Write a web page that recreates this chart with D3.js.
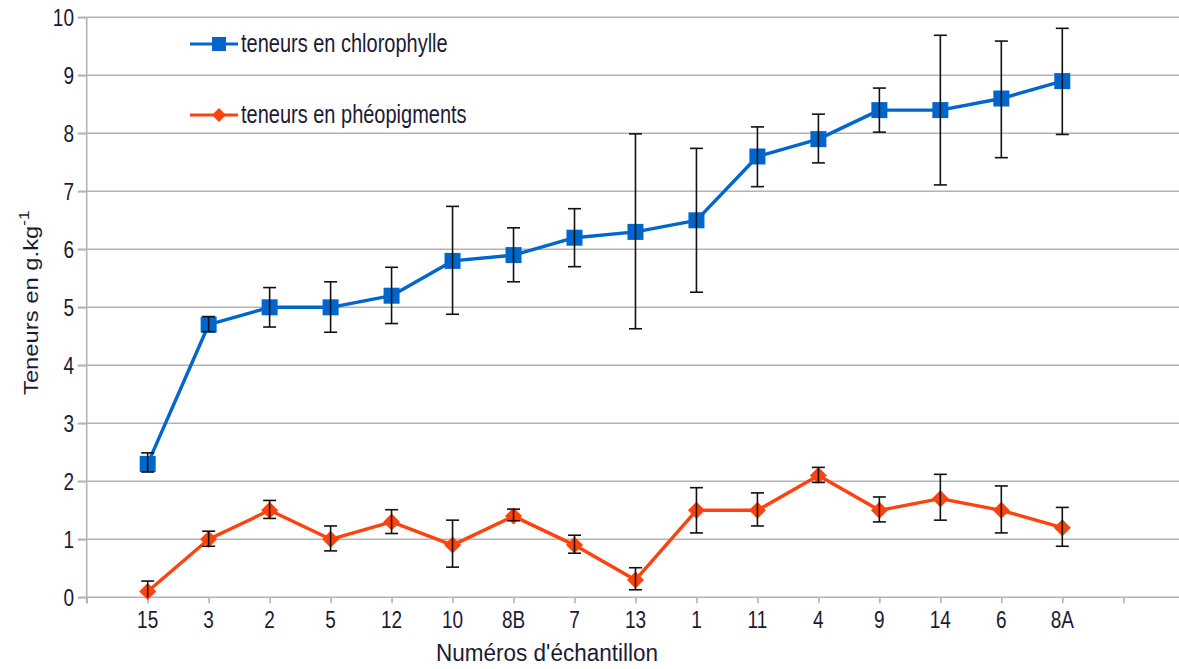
<!DOCTYPE html>
<html>
<head>
<meta charset="utf-8">
<script src="https://cdn.jsdelivr.net/npm/d3@7"></script>
<style>
  html, body { margin: 0; padding: 0; background: #fff; }
  svg { display: block; font-family: "Liberation Sans", Arial, sans-serif; }
</style>
</head>
<body>
<svg id="chart" width="1179" height="669"></svg>
<script>
// Sample identifiers along the x axis
const categories = ["15", "3", "2", "5", "12", "10", "8B", "7", "13", "1", "11", "4", "9", "14", "6", "8A"];

// Chlorophyll contents (g/kg) with lower / upper error bounds
const chloro = [2.3, 4.7, 5.0, 5.0, 5.2, 5.8, 5.9, 6.2, 6.3, 6.5, 7.6, 7.9, 8.4, 8.4, 8.6, 8.9];
const chloroLow = [2.16, 4.58, 4.66, 4.57, 4.72, 4.88, 5.44, 5.70, 4.63, 5.26, 7.08, 7.49, 8.02, 7.11, 7.58, 7.98];
const chloroHigh = [2.49, 4.84, 5.34, 5.44, 5.69, 6.74, 6.37, 6.70, 7.99, 7.74, 8.11, 8.33, 8.78, 9.69, 9.59, 9.81];

// Phaeopigment contents (g/kg) with lower / upper error bounds
const pheo = [0.1, 1.0, 1.5, 1.0, 1.3, 0.9, 1.4, 0.9, 0.3, 1.5, 1.5, 2.1, 1.5, 1.7, 1.5, 1.2];
const pheoLow = [0.0, 0.88, 1.36, 0.80, 1.10, 0.52, 1.32, 0.76, 0.13, 1.11, 1.23, 1.98, 1.30, 1.33, 1.11, 0.88];
const pheoHigh = [0.28, 1.14, 1.67, 1.23, 1.51, 1.33, 1.52, 1.07, 0.51, 1.89, 1.80, 2.24, 1.73, 2.12, 1.92, 1.55];

const yTicks = [0, 1, 2, 3, 4, 5, 6, 7, 8, 9, 10];

const seriesNames = ["teneurs en chlorophylle", "teneurs en phéopigments"];
const colors = ["#0066cc", "#ff420e"];
const textColor = "#1c1a33";
const gridColor = "#b3b3b3";

const svg = d3.select("#chart");

// Index-based x scale: the axis sits one slot before the first sample
const x = d3.scaleLinear().domain([-1, 15]).range([86.7, 1062.3]);
const y = d3.scaleLinear().domain([0, 10]).range([597.3, 17.3]);
const plotRight = 1179;

// Places a horizontally-set label whose glyphs are drawn somewhat taller than wide
function label(parent, px, py, str, size, anchor, stretch, dy) {
  return parent.append("text")
    .attr("transform", `translate(${px},${py}) scale(1,${stretch})`)
    .attr("text-anchor", anchor)
    .attr("dy", dy || 0)
    .attr("fill", textColor)
    .attr("font-size", size)
    .text(str);
}

// Horizontal grid lines
svg.append("g")
  .selectAll("line")
  .data(yTicks)
  .join("line")
  .attr("x1", 78).attr("x2", plotRight)
  .attr("y1", d => y(d)).attr("y2", d => y(d))
  .attr("stroke", gridColor).attr("stroke-width", 1.6);

// Y axis
const yAxis = svg.append("g")
  .attr("transform", `translate(${x(-1)},0)`)
  .call(d3.axisLeft(y).tickValues(yTicks).tickSize(9).tickFormat(""));
yAxis.select(".domain").attr("stroke", gridColor).attr("stroke-width", 1.6)
  .attr("d", `M0,${y(10)}V${y(0) + 6}`);
yAxis.selectAll(".tick line").attr("stroke", gridColor).attr("stroke-width", 1.6);
yAxis.selectAll(".tick text").remove();
const yLabels = svg.append("g");
yTicks.forEach(t => label(yLabels, 74, y(t), d3.format("d")(t), 19, "end", 1.22, "0.36em"));

// X axis (ticks at each sample plus one trailing slot)
const xTickVals = d3.range(-1, categories.length + 1);
const xAxis = svg.append("g")
  .attr("transform", `translate(0,${y(0)})`)
  .call(d3.axisBottom(x).tickValues(xTickVals).tickSize(6).tickFormat(""));
xAxis.select(".domain").remove();
xAxis.selectAll(".tick line").attr("stroke", gridColor).attr("stroke-width", 1.6);
xAxis.selectAll(".tick text").remove();
const xLabels = svg.append("g");
categories.forEach((c, i) => label(xLabels, x(i), 628, c, 19, "middle", 1.22));

// Axis titles
label(svg, 547, 661, "Numéros d'échantillon", 22.5, "middle", 1.1);

const yTitle = svg.append("text")
  .attr("transform", "translate(38,395) rotate(-90) scale(1.22,1)")
  .attr("text-anchor", "start")
  .attr("fill", textColor).attr("font-size", 19.5);
yTitle.append("tspan").text("Teneurs en g.kg");
yTitle.append("tspan").attr("dy", -9).attr("font-size", 14).text("-1");

// Series drawing
const line = d3.line().x((d, i) => x(i)).y(d => y(d));

function drawSeries(values, low, high, color, marker) {
  const g = svg.append("g");
  g.append("path")
    .datum(values)
    .attr("fill", "none")
    .attr("stroke", color)
    .attr("stroke-width", 3.4)
    .attr("stroke-linejoin", "round")
    .attr("d", line);

  if (marker === "square") {
    g.selectAll("rect")
      .data(values)
      .join("rect")
      .attr("x", (d, i) => x(i) - 8).attr("y", d => y(d) - 8)
      .attr("width", 16).attr("height", 16)
      .attr("fill", color);
  } else {
    g.selectAll("path.mk")
      .data(values)
      .join("path")
      .attr("class", "mk")
      .attr("d", (d, i) => {
        const cx = x(i), cy = y(d), r = 8.5;
        return `M${cx},${cy - r}L${cx + r},${cy}L${cx},${cy + r}L${cx - r},${cy}Z`;
      })
      .attr("fill", color);
  }

  // Error bars
  const eb = g.append("g").attr("stroke", "#111").attr("stroke-width", 1.6);
  values.forEach((v, i) => {
    const cx = x(i), y1 = y(low[i]), y2 = y(high[i]);
    eb.append("line").attr("x1", cx).attr("x2", cx).attr("y1", y1).attr("y2", y2);
    eb.append("line").attr("x1", cx - 6.5).attr("x2", cx + 6.5).attr("y1", y2).attr("y2", y2);
    if (low[i] > 0) {
      eb.append("line").attr("x1", cx - 6.5).attr("x2", cx + 6.5).attr("y1", y1).attr("y2", y1);
    }
  });
}

drawSeries(chloro, chloroLow, chloroHigh, colors[0], "square");
drawSeries(pheo, pheoLow, pheoHigh, colors[1], "diamond");

// Legend
const legend = svg.append("g");
const legendY = [44, 115];
seriesNames.forEach((name, k) => {
  const ly = legendY[k];
  legend.append("line")
    .attr("x1", 190).attr("x2", 238).attr("y1", ly).attr("y2", ly)
    .attr("stroke", colors[k]).attr("stroke-width", 3);
  if (k === 0) {
    legend.append("rect").attr("x", 212).attr("y", ly - 7).attr("width", 14).attr("height", 14)
      .attr("fill", colors[k]);
  } else {
    legend.append("path")
      .attr("d", `M219,${ly - 7}L226,${ly}L219,${ly + 7}L212,${ly}Z`)
      .attr("fill", colors[k]);
  }
  label(legend, 241, ly + 8, name, 20, "start", 1.25);
});
</script>
</body>
</html>
